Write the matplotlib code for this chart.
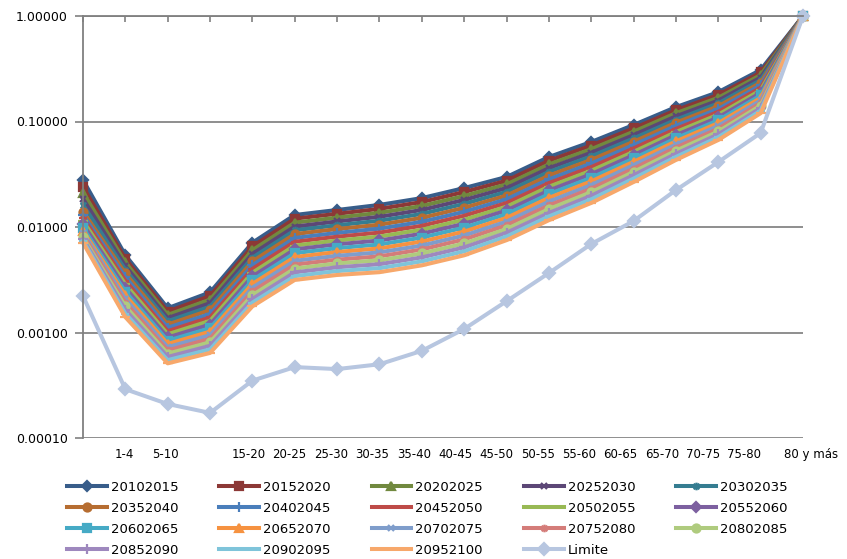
import matplotlib
matplotlib.use("Agg")
import matplotlib.pyplot as plt
from matplotlib.path import Path

# ---------------- data ----------------
categories = ["", "1-4", "5-10", "", "15-20", "20-25", "25-30", "30-35", "35-40",
              "40-45", "45-50", "50-55", "55-60", "60-65", "65-70", "70-75", "75-80", "80 y más"]

s20102015 = [0.0279, 0.0054, 0.0017, 0.0024, 0.0071, 0.0130, 0.0145, 0.0162, 0.0188, 0.0234, 0.0298, 0.0461, 0.0640, 0.0927, 0.137, 0.190, 0.308, 1.0]
s20152020 = [0.0240, 0.00499, 0.00158, 0.00222, 0.00654, 0.0120, 0.01334, 0.01486, 0.01725, 0.02147, 0.02748, 0.0425, 0.0592, 0.0862, 0.128, 0.1787, 0.2914, 1.0]
s20202025 = [0.0212, 0.00461, 0.00147, 0.00205, 0.00603, 0.0110, 0.01227, 0.01363, 0.01582, 0.01969, 0.02533, 0.0392, 0.0547, 0.0801, 0.120, 0.1680, 0.2756, 1.0]
s20252030 = [0.0185, 0.00426, 0.00137, 0.00190, 0.00556, 0.0101, 0.01129, 0.01250, 0.01451, 0.01806, 0.02336, 0.0361, 0.0506, 0.0744, 0.112, 0.1580, 0.2608, 1.0]
s20302035 = [0.0162, 0.00393, 0.00128, 0.00176, 0.00512, 0.00931, 0.01039, 0.01147, 0.01331, 0.01657, 0.02154, 0.0333, 0.0468, 0.0692, 0.104, 0.1486, 0.2467, 1.0]
s20352040 = [0.0140, 0.00363, 0.00119, 0.00163, 0.00472, 0.00857, 0.00956, 0.01052, 0.01221, 0.01520, 0.01986, 0.0307, 0.0433, 0.0643, 0.0975, 0.1397, 0.2334, 1.0]
s20402045 = [0.0130, 0.00335, 0.00111, 0.00150, 0.00435, 0.00788, 0.00879, 0.00965, 0.01120, 0.01394, 0.01831, 0.0283, 0.0400, 0.0598, 0.0911, 0.1314, 0.2208, 1.0]
s20452050 = [0.0122, 0.00310, 0.00103, 0.00139, 0.00401, 0.00725, 0.00809, 0.00885, 0.01027, 0.01278, 0.01688, 0.0261, 0.0370, 0.0556, 0.0851, 0.1236, 0.2088, 1.0]
s20502055 = [0.0114, 0.00286, 0.000963, 0.00129, 0.00369, 0.00667, 0.00744, 0.00812, 0.00942, 0.01173, 0.01556, 0.0241, 0.0342, 0.0516, 0.0795, 0.1162, 0.1976, 1.0]
s20552060 = [0.0106, 0.00264, 0.000897, 0.00119, 0.00340, 0.00614, 0.00685, 0.00745, 0.00864, 0.01075, 0.01435, 0.0222, 0.0317, 0.0480, 0.0743, 0.1093, 0.1869, 1.0]
s20602065 = [0.0098, 0.00244, 0.000836, 0.00110, 0.00314, 0.00565, 0.00630, 0.00683, 0.00793, 0.00987, 0.01323, 0.0205, 0.0293, 0.0446, 0.0694, 0.1028, 0.1768, 1.0]
s20652070 = [0.0092, 0.00225, 0.000779, 0.00102, 0.00289, 0.00519, 0.00579, 0.00627, 0.00727, 0.00905, 0.01220, 0.0189, 0.0271, 0.0415, 0.0649, 0.0966, 0.1673, 1.0]
s20702075 = [0.0088, 0.00208, 0.000726, 0.000944, 0.00266, 0.00478, 0.00533, 0.00575, 0.00667, 0.00830, 0.01125, 0.0174, 0.0250, 0.0386, 0.0606, 0.0909, 0.1582, 1.0]
s20752080 = [0.0084, 0.00192, 0.000676, 0.000873, 0.00245, 0.00440, 0.00490, 0.00527, 0.00612, 0.00762, 0.01037, 0.0160, 0.0231, 0.0358, 0.0566, 0.0855, 0.1497, 1.0]
s20802085 = [0.0080, 0.00177, 0.000630, 0.000808, 0.00226, 0.00404, 0.00451, 0.00484, 0.00561, 0.00698, 0.00956, 0.0148, 0.0214, 0.0333, 0.0529, 0.0804, 0.1416, 1.0]
s20852090 = [0.0077, 0.00164, 0.000587, 0.000748, 0.00208, 0.00372, 0.00415, 0.00444, 0.00515, 0.00641, 0.00882, 0.0136, 0.0198, 0.0310, 0.0494, 0.0756, 0.1340, 1.0]
s20902095 = [0.0074, 0.00151, 0.000547, 0.000692, 0.00192, 0.00342, 0.00382, 0.00407, 0.00472, 0.00588, 0.00813, 0.0126, 0.0183, 0.0288, 0.0462, 0.0711, 0.1267, 1.0]
s20952100 = [0.0071, 0.00140, 0.000510, 0.000640, 0.00177, 0.00315, 0.00351, 0.00373, 0.00433, 0.00539, 0.00750, 0.0116, 0.0169, 0.0267, 0.0432, 0.0668, 0.1199, 1.0]
limite = [0.00222, 0.00029, 0.00021, 0.000173, 0.00035, 0.00047, 0.00045, 0.00050, 0.00067, 0.00108, 0.00198, 0.00366, 0.0069, 0.0114, 0.0224, 0.0413, 0.0778, 1.0]

series_names = ["20102015", "20152020", "20202025", "20252030", "20302035", "20352040",
                "20402045", "20452050", "20502055", "20552060", "20602065", "20652070",
                "20702075", "20752080", "20802085", "20852090", "20902095", "20952100", "Limite"]
series_values = [s20102015, s20152020, s20202025, s20252030, s20302035, s20352040,
                 s20402045, s20452050, s20502055, s20552060, s20602065, s20652070,
                 s20702075, s20752080, s20802085, s20852090, s20902095, s20952100, limite]

y_ticks = [0.0001, 0.001, 0.01, 0.1, 1.0]
y_tick_labels = ["0.00010", "0.00100", "0.01000", "0.10000", "1.00000"]

# ---------------- style ----------------
colors = ["#385D8A", "#8C3836", "#71893F", "#5C4776", "#357D91", "#B66D31",
          "#4A7EBB", "#BE4B48", "#98B954", "#7D60A0", "#46AAC5", "#F69240",
          "#7F9DCB", "#D47C79", "#AFCB7E", "#9E88BE", "#7FC4DA", "#F7A86B",
          "#B7C6E0"]

star = Path([(-1, -1), (1, 1), (1, -1), (-1, 1), (0, -1.35), (0, 1.35)],
            [Path.MOVETO, Path.LINETO, Path.MOVETO, Path.LINETO, Path.MOVETO, Path.LINETO])
marker_cycle = [("D", 5.0), ("s", 5.2), ("^", 6.0), ("x", 5.0), (star, 5.5), ("o", 5.8),
                ("+", 6.5), ("_", 5.5), ("_", 7)]
markers = [marker_cycle[i % 9] for i in range(18)] + [("D", 6.0)]

label_font = dict(fontsize=8.5, family=["Liberation Sans Narrow", "DejaVu Sans"])

fig = plt.figure(figsize=(8.47, 5.59), dpi=100)
ax = fig.add_axes([83 / 847, 1 - 438 / 559, 720 / 847, 422 / 559])

x = list(range(len(categories)))
handles = []
for name, vals, col, (mk, ms) in zip(series_names, series_values, colors, markers):
    (ln,) = ax.plot(x, vals, color=col, lw=2.9, marker=mk, markersize=ms,
                    markerfacecolor=col, markeredgecolor=col, markeredgewidth=1.6,
                    clip_on=False, label=name)
    handles.append(ln)

ax.set_yscale("log")
ax.set_yticks(y_ticks)
ax.set_yticklabels(y_tick_labels)
ax.yaxis.set_minor_locator(matplotlib.ticker.NullLocator())
ax.tick_params(axis="y", direction="out", length=6, width=1.2, color="#808080",
               labelsize=9, pad=5, labelcolor="#000000")
ax.grid(axis="y", color="#868686", lw=1.3)
ax.set_axisbelow(True)

# tick marks at category positions on the top axis line
ax.set_xticks(x)
ax.set_xticklabels([""] * len(x))
ax.tick_params(axis="x", which="major", bottom=False, top=True, labelbottom=False,
               labeltop=False, direction="in", length=4, width=1.2, color="#808080")
# category labels along the bottom (Excel places them slightly compressed)
n_inner = len(categories) - 1
label_x = [i * 0.976 for i in range(n_inner)]
ax.set_xticks(label_x, minor=True)
ax.set_xticklabels(categories[:n_inner], minor=True, **label_font)
ax.tick_params(axis="x", which="minor", bottom=False, top=False, labelbottom=True,
               length=0, pad=7)
ax.annotate(categories[-1], xy=(n_inner, 0), xycoords=("data", "axes fraction"),
            xytext=(6, -7), textcoords="offset points", ha="center", va="top",
            annotation_clip=False, **label_font)

ax.set_ylim(0.0001, 1.0)
ax.set_xlim(0, len(categories) - 1)

for side in ["right", "bottom"]:
    ax.spines[side].set_visible(False)
for side in ["left", "top"]:
    ax.spines[side].set_color("#808080")
    ax.spines[side].set_linewidth(1.3)

order = [0, 5, 10, 15, 1, 6, 11, 16, 2, 7, 12, 17, 3, 8, 13, 18, 4, 9, 14]
leg = fig.legend([handles[i] for i in order], [series_names[i] for i in order],
                 ncol=5, loc="upper left", bbox_to_anchor=(67 / 847, 1 - 481 / 559),
                 frameon=False, fontsize=9.5, handlelength=3.0, handletextpad=0.3,
                 columnspacing=3.12, labelspacing=0.6, borderpad=0, borderaxespad=0,
                 numpoints=1)

fig.savefig("out.png", dpi=100)
